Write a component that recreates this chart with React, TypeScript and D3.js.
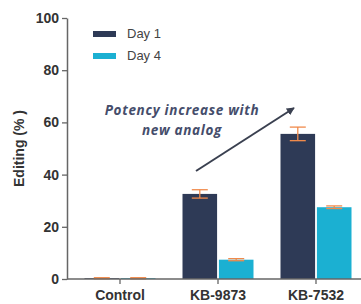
import { useEffect, useRef } from "react";
import * as d3 from "d3";

const categories = ["Control", "KB-9873", "KB-7532"];
const seriesNames = ["Day 1", "Day 4"];
const day1 = [0.3, 32.6, 55.6];
const day1Err = [0.2, 1.6, 2.6];
const day4 = [0.3, 7.4, 27.5];
const day4Err = [0.2, 0.4, 0.5];
const yTicks = [0, 20, 40, 60, 80, 100];
const colors = ["#2e3a56", "#1bb0d2"];
const errColor = "#f08a4b";

export default function App() {
  const ref = useRef<SVGSVGElement | null>(null);

  useEffect(() => {
    if (!ref.current) return;
    const svg = d3.select(ref.current);
    svg.selectAll("*").remove();

    const width = 361;
    const height = 304;
    const margin = { top: 18, right: 8, bottom: 25, left: 67 };
    const font = "'Liberation Sans', Arial, sans-serif";
    const noteFont = "'Open Sans', 'DejaVu Sans', sans-serif";

    const x = d3.scaleBand()
      .domain(categories)
      .range([84.5, 351.5])
      .paddingInner(0.2755)
      .paddingOuter(0);

    const xs = d3.scaleBand()
      .domain(seriesNames)
      .range([0, x.bandwidth()])
      .paddingInner(0.05);

    const y = d3.scaleLinear()
      .domain([0, 100])
      .range([height - margin.bottom, margin.top]);

    const g = svg.append("g");

    const rows = categories.map((c, i) => ({
      c,
      vals: [
        { s: seriesNames[0], v: day1[i], e: day1Err[i], col: colors[0] },
        { s: seriesNames[1], v: day4[i], e: day4Err[i], col: colors[1] },
      ],
    }));

    const groups = g.selectAll("g.grp")
      .data(rows)
      .enter()
      .append("g")
      .attr("transform", d => `translate(${x(d.c)},0)`);

    groups.selectAll("rect")
      .data(d => d.vals)
      .enter()
      .append("rect")
      .attr("x", d => xs(d.s)!)
      .attr("y", d => y(d.v))
      .attr("width", xs.bandwidth())
      .attr("height", d => y(0) - y(d.v))
      .attr("fill", d => d.col);

    // Error bars
    const eb = groups.selectAll("g.err")
      .data(d => d.vals)
      .enter()
      .append("g")
      .attr("stroke", errColor)
      .attr("stroke-width", 1.3);
    const cx = (d: { s: string }) => xs(d.s)! + xs.bandwidth() / 2;
    eb.append("line")
      .attr("x1", cx)
      .attr("x2", cx)
      .attr("y1", d => y(d.v + d.e))
      .attr("y2", d => y(d.v - d.e));
    eb.append("line")
      .attr("x1", d => cx(d) - 8)
      .attr("x2", d => cx(d) + 8)
      .attr("y1", d => y(d.v + d.e))
      .attr("y2", d => y(d.v + d.e));
    eb.append("line")
      .attr("x1", d => cx(d) - 8)
      .attr("x2", d => cx(d) + 8)
      .attr("y1", d => y(d.v - d.e))
      .attr("y2", d => y(d.v - d.e));

    // Axes
    const xAxis = svg.append("g")
      .attr("transform", `translate(0,${y(0)})`)
      .call(d3.axisBottom(x).tickSize(5).tickSizeOuter(0));
    xAxis.select(".domain").attr("stroke", "#666").attr("stroke-width", 1.5)
      .attr("d", `M${margin.left},0H${width}`);
    xAxis.selectAll(".tick line").attr("stroke", "#666").attr("stroke-width", 1.3);
    xAxis.selectAll("text")
      .attr("fill", "#333")
      .attr("font-family", font)
      .attr("font-weight", "bold")
      .attr("font-size", "14px")
      .attr("dy", 0)
      .attr("y", 21);

    const yAxis = svg.append("g")
      .attr("transform", `translate(${margin.left},0)`)
      .call(d3.axisLeft(y).tickValues(yTicks).tickSize(5).tickSizeOuter(0));
    yAxis.select(".domain").attr("stroke", "#666").attr("stroke-width", 1.5);
    yAxis.selectAll(".tick line").attr("stroke", "#666").attr("stroke-width", 1.3);
    yAxis.selectAll("text")
      .attr("fill", "#333")
      .attr("font-family", font)
      .attr("font-weight", "bold")
      .attr("font-size", "14px")
      .attr("x", -8);

    // Y label
    svg.append("text")
      .attr("transform", "rotate(-90)")
      .attr("x", -y(50))
      .attr("y", 24)
      .attr("text-anchor", "middle")
      .attr("fill", "#333")
      .attr("font-family", font)
      .attr("font-weight", "bold")
      .attr("font-size", "14px")
      .text("Editing (% )");

    // Legend
    const lg = svg.append("g").attr("transform", "translate(93,31)");
    seriesNames.forEach((s, i) => {
      lg.append("rect")
        .attr("x", 0)
        .attr("y", i * 22)
        .attr("width", 23)
        .attr("height", 6)
        .attr("fill", colors[i]);
      lg.append("text")
        .attr("x", 34)
        .attr("y", i * 22 + 7)
        .attr("fill", "#444")
        .attr("font-family", font)
        .attr("font-size", "13px")
        .text(s);
    });

    // Annotation
    const note = svg.append("text")
      .attr("text-anchor", "middle")
      .attr("fill", "#454d6b")
      .attr("font-family", noteFont)
      .attr("font-weight", "bold")
      .attr("font-style", "italic")
      .attr("font-size", "13.5px")
      .attr("letter-spacing", "0.7px");
    note.append("tspan").attr("x", 182).attr("y", 115).text("Potency increase with");
    note.append("tspan").attr("x", 182).attr("y", 135).text("new analog");

    const defs = svg.append("defs");
    defs.append("marker")
      .attr("id", "arr")
      .attr("viewBox", "0 0 10 10")
      .attr("refX", 9)
      .attr("refY", 5)
      .attr("markerWidth", 4)
      .attr("markerHeight", 4)
      .attr("orient", "auto")
      .append("path")
      .attr("d", "M0,0L10,5L0,10z")
      .attr("fill", "#3a4050");
    svg.append("line")
      .attr("x1", 196)
      .attr("y1", 171)
      .attr("x2", 294)
      .attr("y2", 108)
      .attr("stroke", "#3a4050")
      .attr("stroke-width", 2)
      .attr("marker-end", "url(#arr)");
  }, []);

  return (
    <div style={{ position: "fixed", left: 0, top: 0, width: 361, height: 304, background: "#fff" }}>
      <svg ref={ref} width={361} height={304} style={{ display: "block" }} />
    </div>
  );
}
